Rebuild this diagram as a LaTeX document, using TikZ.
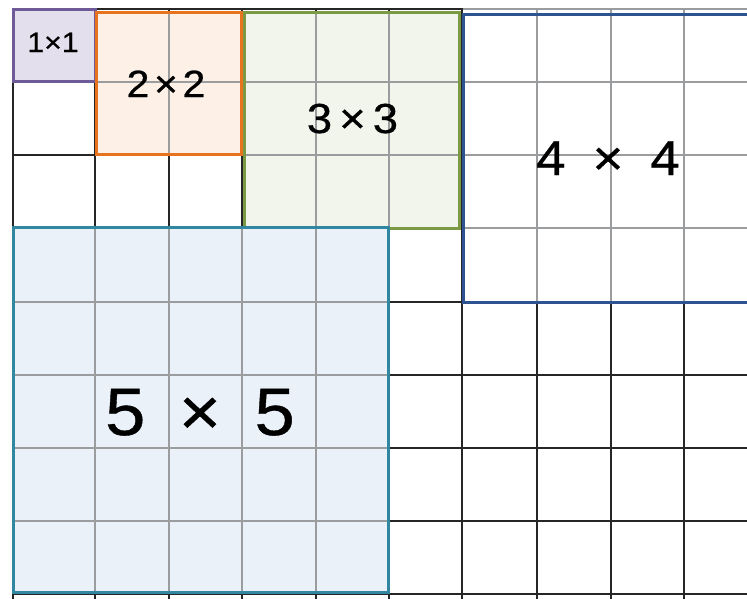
\documentclass[tikz,border=0pt]{standalone}
\usepackage{fontspec}
\newfontfamily\labfont[FakeStretch=1.08,FakeBold=0.6]{Liberation Sans}
\definecolor{purpB}{HTML}{6F5A98}
\definecolor{purpF}{HTML}{E4DFEC}
\definecolor{orB}{HTML}{E8731E}
\definecolor{orF}{HTML}{FDF1E7}
\definecolor{grB}{HTML}{7C9A44}
\definecolor{grF}{HTML}{F2F5EB}
\definecolor{blB}{HTML}{2D5391}
\definecolor{tlB}{HTML}{3287A0}
\definecolor{tlF}{HTML}{EAF1F9}
\definecolor{inner}{HTML}{9A9C9E}
\tikzset{
  gridline/.style={black!85, line width=1.5pt},
  innerline/.style={inner, line width=1.2pt},
  boxborder/.style={line width=3pt, line join=miter},
  lab/.style={anchor=base, inner sep=0pt, text=black}
}
\begin{document}
\begin{tikzpicture}[x=1pt,y=-1pt]
\useasboundingbox (0,0) rectangle (747,598);
% base grid
\foreach \x in {13,95,169,242,316,389,462,537,611,684}
  \draw[gridline] (\x,9) -- (\x,600);
\foreach \y in {9,82,155,228,302,375,448,521,594}
  \draw[gridline] (13,\y) -- (750,\y);
% 1x1
\fill[purpF] (13,9) rectangle (95,81);
\draw[boxborder, purpB] (13,9) rectangle (95,81);
% 2x2
\fill[orF] (96,12) rectangle (241,154);
\draw[innerline] (169,12) -- (169,154);
\draw[innerline] (96,82) -- (241,82);
\draw[boxborder, orB] (96,12) rectangle (241,154);
% 3x3
\fill[grF] (244,12) rectangle (459,228);
\foreach \x in {316,389} \draw[innerline] (\x,12) -- (\x,228);
\foreach \y in {82,155} \draw[innerline] (244,\y) -- (459,\y);
\draw[boxborder, grB] (244,12) rectangle (459,228);
% 4x4
\fill[white] (463,7) rectangle (752,302);
\foreach \x in {537,611,684} \draw[innerline] (\x,8) -- (\x,302);
\foreach \y in {9,82,155,228} \draw[innerline] (463,\y) -- (752,\y);
\draw[boxborder, blB] (463,14) rectangle (752,302);
% 5x5
\fill[tlF] (13,227) rectangle (388,592);
\foreach \x in {95,169,242,316} \draw[innerline] (\x,227) -- (\x,592);
\foreach \y in {302,375,448,521} \draw[innerline] (13,\y) -- (388,\y);
\draw[boxborder, tlB] (13,227) rectangle (388,592);
% labels
\node[lab] (l1) at (53,52) {\labfont\fontsize{28}{28}\selectfont 1×1};
\node[lab] (l2) at (166,97) {\labfont\fontsize{38}{38}\selectfont 2\hspace{0.12em}×\hspace{0.12em}2};
\node[lab] (l3) at (352.5,133) {\labfont\fontsize{42}{42}\selectfont 3\hspace{0.17em}×\hspace{0.17em}3};
\node[lab] (l4) at (608,175) {\labfont\fontsize{49}{49}\selectfont 4\hspace{0.55em}×\hspace{0.55em}4};
\node[lab] (l5) at (200,435) {\labfont\fontsize{67}{67}\selectfont 5\hspace{0.5em}×\hspace{0.5em}5};
\end{tikzpicture}
\end{document}
